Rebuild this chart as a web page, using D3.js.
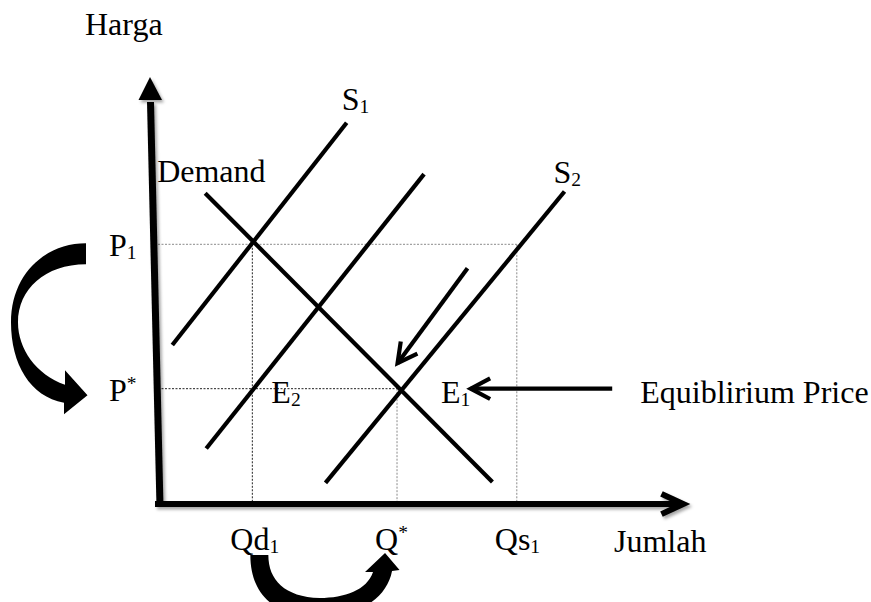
<!DOCTYPE html>
<html>
<head>
<meta charset="utf-8">
<script src="https://cdn.jsdelivr.net/npm/d3@7"></script>
<style>
  body { margin: 0; background: #fff; }
  svg { display: block; }
</style>
</head>
<body>
<script>
// quantity ticks (Jumlah axis), chart units 0..100
const qTickNames = ["Qd", "Q", "Qs"];
const qTickMarks = ["1", "*", "1"];
const qTickValues = [17.8, 45.1, 67.7];

// price ticks (Harga axis)
const pTickNames = ["P", "P"];
const pTickMarks = ["1", "*"];
const pTickValues = [61.25, 27.2];

// supply / demand lines, [q, p] at each end
const curveNames = ["S1", "S", "S2", "Demand"];
const curveFrom = [[2.7, 37.5], [9.1, 13.1], [31.6, 5.0], [8.9, 73.3]];
const curveTo = [[35.6, 89.9], [50.2, 77.8], [76.7, 73.7], [63.1, 5.2]];

// shift arrow along S2 and the pointer at E1
const shiftFrom = [58.4, 55.6];
const shiftTo = [45.2, 33.2];
const pointerFrom = [85.7, 27.2];
const pointerTo = [59.0, 27.2];

const width = 871;
const height = 602;
const font = "'Liberation Serif', 'Times New Roman', serif";
const big = 32;
const small = 19.5;

const x = d3.scaleLinear().domain([0, 100]).range([158, 688]);
const y = d3.scaleLinear().domain([0, 100]).range([504, 80]);

const svg = d3
  .select("body")
  .append("svg")
  .attr("width", width)
  .attr("height", height)
  .attr("viewBox", [0, 0, width, height]);

svg.append("rect").attr("width", width).attr("height", height).attr("fill", "#fff");

svg
  .append("defs")
  .append("filter")
  .attr("id", "shadow")
  .attr("x", "-20%").attr("y", "-20%").attr("width", "140%").attr("height", "140%")
  .append("feDropShadow")
  .attr("dx", 2)
  .attr("dy", 2.5)
  .attr("stdDeviation", 1.4)
  .attr("flood-color", "#000")
  .attr("flood-opacity", 0.35);

// open arrow head: two arms back from the tip
function chevron(tip, from, len, deg) {
  const dx = from[0] - tip[0];
  const dy = from[1] - tip[1];
  const m = Math.hypot(dx, dy);
  const ux = dx / m, uy = dy / m;
  const a = (deg * Math.PI) / 180;
  const arm = (s) => [
    tip[0] + len * (ux * Math.cos(s * a) - uy * Math.sin(s * a)),
    tip[1] + len * (ux * Math.sin(s * a) + uy * Math.cos(s * a)),
  ];
  const a1 = arm(1), a2 = arm(-1);
  return `M${a1}L${tip}L${a2}`;
}

const pt = (d) => [x(d[0]), y(d[1])];

// guide lines
const guides = [
  { from: [0, pTickValues[0]], to: [qTickValues[2], pTickValues[0]], color: "#8a8a8a" },
  { from: [0, pTickValues[1]], to: [qTickValues[1], pTickValues[1]], color: "#222" },
  { from: [qTickValues[0], pTickValues[0]], to: [qTickValues[0], 0], color: "#222" },
  { from: [qTickValues[1], pTickValues[1]], to: [qTickValues[1], 0], color: "#8a8a8a" },
  { from: [qTickValues[2], pTickValues[0]], to: [qTickValues[2], 0], color: "#8a8a8a" },
];

svg
  .append("g")
  .attr("stroke-width", 1)
  .attr("stroke-dasharray", "2,1.5")
  .selectAll("line")
  .data(guides)
  .join("line")
  .attr("x1", (d) => x(d.from[0]))
  .attr("y1", (d) => y(d.from[1]))
  .attr("x2", (d) => x(d.to[0]))
  .attr("y2", (d) => y(d.to[1]))
  .attr("stroke", (d) => d.color);

// supply and demand
svg
  .append("g")
  .attr("stroke", "#000")
  .attr("stroke-width", 4.2)
  .attr("stroke-linecap", "butt")
  .selectAll("line")
  .data(curveNames)
  .join("line")
  .attr("x1", (d, i) => x(curveFrom[i][0]))
  .attr("y1", (d, i) => y(curveFrom[i][1]))
  .attr("x2", (d, i) => x(curveTo[i][0]))
  .attr("y2", (d, i) => y(curveTo[i][1]));

// axes
const axes = svg.append("g").attr("filter", "url(#shadow)");
const x0 = x(0), y0 = y(0);

axes
  .append("line")
  .attr("x1", x0 + 2)
  .attr("y1", y0 + 3)
  .attr("x2", x0 - 7.5)
  .attr("y2", y(100) + 22)
  .attr("stroke", "#000")
  .attr("stroke-width", 7);

axes
  .append("path")
  .attr("d", `M${x0 - 8},${y(100) - 3}L${x0 - 19.5},${y(100) + 20}L${x0 + 4},${y(100) + 20}Z`)
  .attr("fill", "#000");

axes
  .append("line")
  .attr("x1", x0 - 3)
  .attr("y1", y0)
  .attr("x2", x(99) - 2)
  .attr("y2", y0)
  .attr("stroke", "#000")
  .attr("stroke-width", 6);

axes
  .append("path")
  .attr("d", chevron([x(99.1), y0], [x(90), y0], 24, 25))
  .attr("fill", "none")
  .attr("stroke", "#000")
  .attr("stroke-width", 6)
  .attr("stroke-linejoin", "miter");

// shift arrow and E1 pointer
const arrows = [
  { from: shiftFrom, to: shiftTo },
  { from: pointerFrom, to: pointerTo },
];

const arrowG = svg
  .append("g")
  .attr("fill", "none")
  .attr("stroke", "#000")
  .attr("stroke-width", 4.2);

arrowG
  .selectAll("line")
  .data(arrows)
  .join("line")
  .attr("x1", (d) => x(d.from[0]))
  .attr("y1", (d) => y(d.from[1]))
  .attr("x2", (d) => x(d.to[0]))
  .attr("y2", (d) => y(d.to[1]));

arrowG
  .selectAll("path")
  .data(arrows)
  .join("path")
  .attr("stroke-linejoin", "miter")
  .attr("d", (d) => chevron(pt(d.to), pt(d.from), 22, 28));

// curved block arrows: P1 -> P* on the left, Qd1 -> Q* below
const a = y(pTickValues[0]);
const b = y(pTickValues[1]);
const m = (a + b) / 2;
const left = d3.path();
left.moveTo(86, a - 1);
left.bezierCurveTo(45, a - 1, 11, a + 30, 11, m + 6);
left.bezierCurveTo(11, b - 25, 30, b + 8, 64, b + 14);
left.lineTo(64, b + 25.5);
left.lineTo(87.5, b + 6.5);
left.lineTo(65, b - 18.5);
left.lineTo(65, b - 4);
left.bezierCurveTo(36, b - 14, 18, b - 40, 18, m + 6);
left.bezierCurveTo(18, a + 45, 45, a + 20, 86, a + 20);
left.closePath();

const L = x(qTickValues[0]);
const R = x(qTickValues[1]);
const mid = (L + R) / 2;
const bottom = d3.path();
bottom.moveTo(L - 2, 555);
bottom.bezierCurveTo(L - 2, 602, mid - 40, 619, mid, 617);
bottom.bezierCurveTo(mid + 35, 615, R - 10, 598, R - 5, 571);
bottom.lineTo(R + 2.5, 570);
bottom.lineTo(R - 12, 553);
bottom.lineTo(R - 32, 572);
bottom.lineTo(R - 24, 572);
bottom.bezierCurveTo(R - 30, 590, mid + 20, 598, mid - 5, 598);
bottom.bezierCurveTo(mid - 40, 597, L + 16, 580, L + 16, 555);
bottom.closePath();

svg
  .append("g")
  .attr("fill", "#000")
  .selectAll("path")
  .data([left.toString(), bottom.toString()])
  .join("path")
  .attr("d", (d) => d);

// labels
const text = svg
  .append("g")
  .attr("font-family", font)
  .attr("font-size", big)
  .attr("fill", "#000");

function label(tx, ty, name, mark, shift) {
  const t = text.append("text").attr("x", tx).attr("y", ty).text(name);
  if (mark) {
    t.append("tspan")
      .attr("font-size", small)
      .attr("dy", shift)
      .text(mark);
  }
  return t;
}

const markShift = (mk) => (mk === "*" ? -11 : 3);

qTickNames.forEach((n, i) =>
  label(x(qTickValues[i]) - 22, y0 + 46, n, qTickMarks[i], markShift(qTickMarks[i]))
);
pTickNames.forEach((n, i) =>
  label(x0 - 49, y(pTickValues[i]) + 12, n, pTickMarks[i], markShift(pTickMarks[i]))
);

label(x0 - 73, 35, "Harga");
label(614, y0 + 48, "Jumlah");

// curve labels at the upper ends
label(x(curveTo[0][0]) - 5, y(curveTo[0][1]) - 13, "S", "1", 3);
label(x(curveTo[2][0]) - 11, y(curveTo[2][1]) - 9, "S", "2", 3);
label(x(curveFrom[3][0]) - 48, y(curveFrom[3][1]) - 11, "Demand");

label(x(qTickValues[0]) + 19, y(pTickValues[1]) + 14.5, "E", "2", 3);
label(x(qTickValues[1]) + 44, y(pTickValues[1]) + 14.5, "E", "1", 3);
label(x(pointerFrom[0]) + 28, y(pointerFrom[1]) + 14.5, "Equiblirium Price");
</script>
</body>
</html>
